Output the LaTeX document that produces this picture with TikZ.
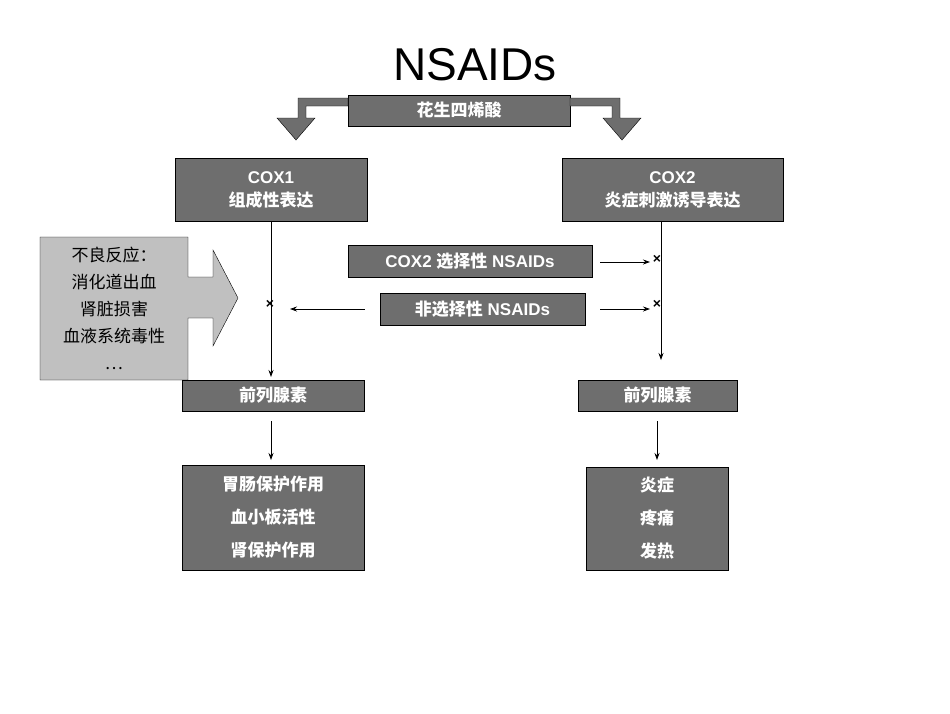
\documentclass[tikz,border=0pt]{standalone}
\usepackage{fontspec}
\setmainfont{Liberation Sans}
\newfontfamily\cjk{Noto Sans CJK SC}
\usetikzlibrary{arrows.meta}
\definecolor{dg}{HTML}{6E6E6E}
\definecolor{lg}{HTML}{C0C0C0}
\begin{document}
\begin{tikzpicture}[x=1pt,y=-1pt,
  dbox/.style={draw=black,fill=dg,text=white,font=\bfseries\fontsize{17}{21}\selectfont,align=center,inner sep=0pt},
  ln/.style={draw=black,line width=0.8pt,-{Stealth[length=7pt,width=5pt]}},
  xm/.style={font=\bfseries\fontsize{14}{14}\selectfont,inner sep=0pt}]
\useasboundingbox (0,0) rectangle (950,713);
\node[font=\fontsize{46}{50}\selectfont] (title) at (475,65) {NSAIDs};
\node[dbox,minimum width=222,minimum height=31] (aa) at (459,110.5) {\cjk 花生四烯酸};
\draw[fill=dg,draw=black] (348,98)--(298,98)--(298,118)--(277,118)--(296,140)--(315,118)--(306,118)--(306,106)--(348,106)--cycle;
\draw[fill=dg,draw=black] (570,98)--(620,98)--(620,118)--(641,118)--(622,140)--(603,118)--(612,118)--(612,106)--(570,106)--cycle;
\node[dbox,minimum width=192,minimum height=63] (c1) at (271,189.5) {COX1\\[2pt]{\cjk 组成性表达}};
\node[dbox,minimum width=221,minimum height=63] (c2) at (672.5,189.5) {COX2\\[2pt]{\cjk 炎症刺激诱导表达}};
\node[dbox,minimum width=244,minimum height=32] (sel) at (470,261) {COX2 {\cjk 选择性} NSAIDs};
\node[dbox,minimum width=205,minimum height=32] (ns) at (482.5,309) {{\cjk 非选择性} NSAIDs};
\draw[fill=lg,draw=black] (40,237)--(188,237)--(188,277)--(213,277)--(213,250)--(238,298)--(213,346)--(213,318)--(188,318)--(188,380)--(40,380)--cycle;
\node[font=\cjk\fontsize{17}{27}\selectfont,align=center] (ae) at (114,308) {不良反应：\\消化道出血\\肾脏损害\\血液系统毒性\\…};
\node[dbox,minimum width=182,minimum height=31] (p1) at (273,395.5) {\cjk 前列腺素};
\node[dbox,minimum width=159,minimum height=31] (p2) at (657.5,395.5) {\cjk 前列腺素};
\node[dbox,minimum width=182,minimum height=105,font=\cjk\bfseries\fontsize{17}{33}\selectfont] (b1) at (273,517.5) {胃肠保护作用\\血小板活性\\肾保护作用};
\node[dbox,minimum width=142,minimum height=103,font=\cjk\bfseries\fontsize{17}{33}\selectfont] (b2) at (657,518.5) {炎症\\疼痛\\发热};
\node[xm] (x1) at (270,304) {×};
\node[xm] (x2) at (657,259) {×};
\node[xm] (x3) at (657,304) {×};
\coordinate (l1) at (271,377); \coordinate (l0) at (271,221);
\draw[ln] (l0)--(l1);
\draw[ln] (661,221)--(661,360);
\draw[ln] (ns.west)++(-15,0) -- (290,309);
\draw[ln] (600,262)--(650,262);
\draw[ln] (600,309)--(650,309);
\draw[ln] (271,421)--(271,460);
\draw[ln] (657,421)--(657,460);
\end{tikzpicture}
\end{document}
